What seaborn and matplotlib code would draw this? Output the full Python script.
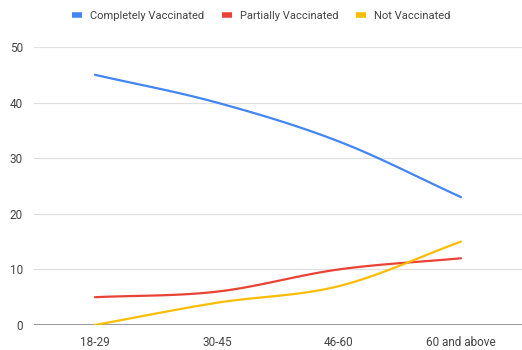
import numpy as np
import pandas as pd
import matplotlib
matplotlib.use("Agg")
import matplotlib.pyplot as plt
import seaborn as sns

age_groups = ["18-29", "30-45", "46-60", "60 and above"]
completely = [45, 40, 33, 23]
partially = [5, 6, 10, 12]
not_vacc = [0, 4, 7, 15]

series_names = ["Completely Vaccinated", "Partially Vaccinated", "Not Vaccinated"]
series_values = [completely, partially, not_vacc]
colors = ["#4285F4", "#EA4335", "#FBBC04"]


def smooth(x, y, steps=40):
    """Catmull-Rom curve through the points (x, y)."""
    x = np.asarray(x, float)
    y = np.asarray(y, float)
    px = np.concatenate([[2 * x[0] - x[1]], x, [2 * x[-1] - x[-2]]])
    py = np.concatenate([[2 * y[0] - y[1]], y, [2 * y[-1] - y[-2]]])
    xs, ys = [], []
    t = np.linspace(0, 1, steps)
    for i in range(1, len(px) - 2):
        for p, out in ((px, xs), (py, ys)):
            p0, p1, p2, p3 = p[i - 1], p[i], p[i + 1], p[i + 2]
            out.extend(0.5 * ((2 * p1) + (-p0 + p2) * t
                              + (2 * p0 - 5 * p1 + 4 * p2 - p3) * t ** 2
                              + (-p0 + 3 * p1 - 3 * p2 + p3) * t ** 3))
    return np.array(xs), np.array(ys)


rows = []
for name, vals in zip(series_names, series_values):
    sx, sy = smooth(range(len(age_groups)), vals)
    rows.append(pd.DataFrame({"pos": sx, "value": sy, "series": name}))
df = pd.concat(rows, ignore_index=True)

sns.set_style("white")
plt.rcParams["font.family"] = ["Roboto", "DejaVu Sans"]

fig = plt.figure(figsize=(5.22, 3.5), dpi=100)
ax = fig.add_axes([34 / 522, 1 - 325 / 350, 1 - 34 / 522, (325 - 47) / 350])

sns.lineplot(data=df, x="pos", y="value", hue="series", hue_order=series_names,
             palette=colors, linewidth=1.6, sort=False, estimator=None,
             legend=False, ax=ax, zorder=3)

ax.set_xlim(-0.5, len(age_groups) - 0.5)
ax.set_ylim(0, 50)
ax.set_xticks(range(len(age_groups)))
ax.set_xticklabels(age_groups)
ax.set_yticks(range(0, 51, 10))
ax.set_xlabel("")
ax.set_ylabel("")
ax.grid(axis="y", color="#e0e0e0", linewidth=0.9)
ax.grid(axis="x", visible=False)
ax.axhline(0, color="#888888", linewidth=1.2, zorder=2)
for s in ax.spines.values():
    s.set_visible(False)
ax.tick_params(axis="both", length=0, labelsize=8.5, colors="#444444")
ax.tick_params(axis="x", pad=8)
ax.tick_params(axis="y", pad=8)

handles = [plt.Line2D([], [], color=c, linewidth=4, solid_capstyle="butt") for c in colors]
fig.legend(handles, series_names, loc="center", bbox_to_anchor=(0.5, 1 - 16 / 350),
           ncol=3, frameon=False, fontsize=8, handlelength=0.9, handletextpad=0.7,
           columnspacing=1.6, labelcolor="#444444")

fig.savefig("out.png", dpi=100)
